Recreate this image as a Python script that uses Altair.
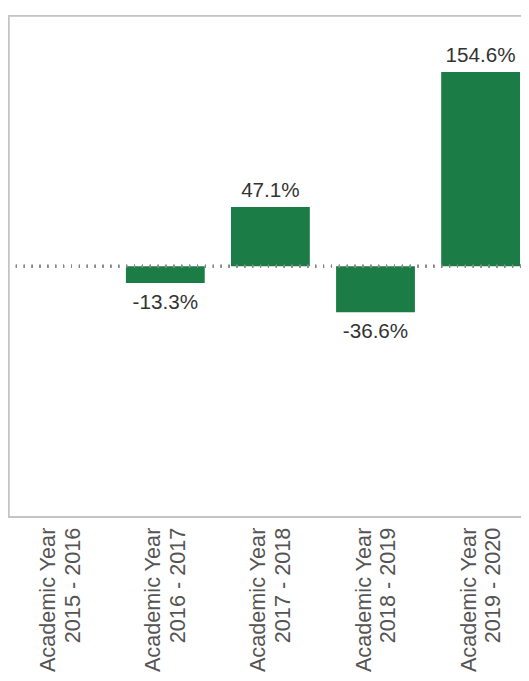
import altair as alt
import pandas as pd

categories = [
    "Academic Year|2015 - 2016",
    "Academic Year|2016 - 2017",
    "Academic Year|2017 - 2018",
    "Academic Year|2018 - 2019",
    "Academic Year|2019 - 2020",
]
changes = [None, -13.3, 47.1, -36.6, 154.6]

df = pd.DataFrame({"year": categories, "change": changes, "zero": [0.0] * len(categories)})

W, H = 521, 510
FONT = "Liberation Sans"

xenc = alt.X(
    "year:N",
    sort=categories,
    scale=alt.Scale(domain=categories, range=[0, 533], paddingInner=0.25, paddingOuter=0.122),
    axis=alt.Axis(
        title=None,
        labelAngle=270,
        labelAlign="right",
        labelBaseline="middle",
        labelExpr="split(datum.label, '|')",
        labelFont=FONT,
        labelFontSize=22,
        labelLineHeight=25,
        labelColor="#555555",
        labelPadding=10,
        labelOffset=-12,
        ticks=False,
        domain=False,
        grid=False,
    ),
)
yscale = alt.Scale(domain=[-200, 200], nice=False, zero=True)
yenc = alt.Y("change:Q", scale=yscale, axis=None)

base = alt.Chart(df)

lbl_expr = "(datum.change < 0 ? '-' : '') + format(abs(datum.change), '.1f') + '%'"

bars = base.mark_bar(color="#1c7c46", clip=True).encode(x=xenc, y=yenc, y2="zero:Q")

pos_text = (
    base.transform_filter("datum.change > 0")
    .transform_calculate(lbl=lbl_expr)
    .mark_text(font=FONT, fontSize=21, color="#333333", baseline="alphabetic", dy=-10, clip=True)
    .encode(x=xenc, y=yenc, text="lbl:N")
)
neg_text = (
    base.transform_filter("datum.change < 0")
    .transform_calculate(lbl=lbl_expr)
    .mark_text(font=FONT, fontSize=21, color="#333333", baseline="alphabetic", dy=26, clip=True)
    .encode(x=xenc, y=yenc, text="lbl:N")
)

zero_line = base.mark_rule(color="#888888", strokeWidth=3, strokeDash=[1, 7]).encode(
    y=alt.Y("zero:Q", scale=yscale, axis=None), x=alt.value(0), x2=alt.value(W)
)

left_border = base.mark_rule(color="#c4c4c4", strokeWidth=1.5).encode(
    x=alt.value(0.5), y=alt.value(0), y2=alt.value(H)
)
top_border = base.mark_rule(color="#c4c4c4", strokeWidth=1.5).encode(
    y=alt.value(0.5), x=alt.value(0), x2=alt.value(W)
)
bottom_border = base.mark_rule(color="#c4c4c4", strokeWidth=1.5).encode(
    y=alt.value(H), x=alt.value(0), x2=alt.value(W)
)

chart = (
    alt.layer(bars, zero_line, pos_text, neg_text, left_border, top_border, bottom_border)
    .properties(
        width=W,
        height=H,
        autosize=alt.AutoSizeParams(type="none"),
        padding={"left": 0, "top": 2, "right": 0, "bottom": 160},
    )
    .configure_view(stroke=None)
)

chart.save("out.html", embed_options={"renderer": "svg", "actions": False})
